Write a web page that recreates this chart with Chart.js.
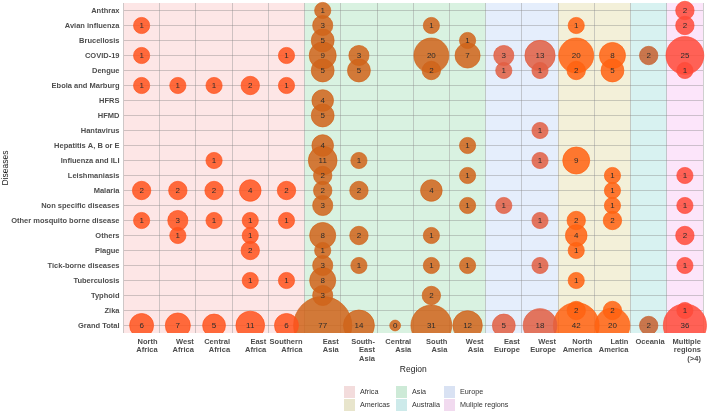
<!DOCTYPE html>
<html>
<head>
<meta charset="utf-8">
<script src="https://cdn.jsdelivr.net/npm/chart.js@4.4.0/dist/chart.umd.min.js"></script>
<style>
  html, body { margin: 0; padding: 0; background: #fff; }
  canvas { display: block; }
</style>
</head>
<body>
<canvas id="bubbleChart" width="708" height="413" style="width:708px;height:413px"></canvas>
<script>
const _ = null;

const diseases = ['Anthrax', 'Avian influenza', 'Brucellosis', 'COVID-19', 'Dengue', 'Ebola and Marburg',
    'HFRS', 'HFMD', 'Hantavirus', 'Hepatitis A, B or E', 'Influenza and ILI', 'Leishmaniasis', 'Malaria',
    'Non specific diseases', 'Other mosquito borne disease', 'Others', 'Plague', 'Tick-borne diseases',
    'Tuberculosis', 'Typhoid', 'Zika', 'Grand Total'];

const regions = ['North Africa', 'West Africa', 'Central Africa', 'East Africa', 'Southern Africa',
    'East Asia', 'South-East Asia', 'Central Asia', 'South Asia', 'West Asia',
    'East Europe', 'West Europe', 'North America', 'Latin America', 'Oceania', 'Multiple regions (>4)'];

const regionLabels = [['North', 'Africa'], ['West', 'Africa'], ['Central', 'Africa'], ['East', 'Africa'],
    ['Southern', 'Africa'], ['East', 'Asia'], ['South-', 'East', 'Asia'], ['Central', 'Asia'], ['South', 'Asia'],
    ['West', 'Asia'], ['East', 'Europe'], ['West', 'Europe'], ['North', 'America'], ['Latin', 'America'],
    ['Oceania'], ['Multiple', 'regions', '(>4)']];

const regionGroup = ['Africa', 'Africa', 'Africa', 'Africa', 'Africa', 'Asia', 'Asia', 'Asia', 'Asia', 'Asia',
    'Europe', 'Europe', 'Americas', 'Americas', 'Australia', 'Muliple regions'];

// number of studies per region, in the order of `diseases` (null = none)
const northAfrica    = [_, 1, _, 1, _, 1, _, _, _, _, _, _, 2, _, 1, _, _, _, _, _, _, 6];
const westAfrica     = [_, _, _, _, _, 1, _, _, _, _, _, _, 2, _, 3, 1, _, _, _, _, _, 7];
const centralAfrica  = [_, _, _, _, _, 1, _, _, _, _, 1, _, 2, _, 1, _, _, _, _, _, _, 5];
const eastAfrica     = [_, _, _, _, _, 2, _, _, _, _, _, _, 4, _, 1, 1, 2, _, 1, _, _, 11];
const southernAfrica = [_, _, _, 1, _, 1, _, _, _, _, _, _, 2, _, 1, _, _, _, 1, _, _, 6];
const eastAsia       = [1, 3, 5, 9, 5, _, 4, 5, _, 4, 11, 2, 2, 3, _, 8, 1, 3, 8, 3, _, 77];
const southEastAsia  = [_, _, _, 3, 5, _, _, _, _, _, 1, _, 2, _, _, 2, _, 1, _, _, _, 14];
const centralAsia    = [_, _, _, _, _, _, _, _, _, _, _, _, _, _, _, _, _, _, _, _, _, 0];
const southAsia      = [_, 1, _, 20, 2, _, _, _, _, _, _, _, 4, _, _, 1, _, 1, _, 2, _, 31];
const westAsia       = [_, _, 1, 7, _, _, _, _, _, 1, _, 1, _, 1, _, _, _, 1, _, _, _, 12];
const eastEurope     = [_, _, _, 3, 1, _, _, _, _, _, _, _, _, 1, _, _, _, _, _, _, _, 5];
const westEurope     = [_, _, _, 13, 1, _, _, _, 1, _, 1, _, _, _, 1, _, _, 1, _, _, _, 18];
const northAmerica   = [_, 1, _, 20, 2, _, _, _, _, _, 9, _, _, _, 2, 4, 1, _, 1, _, 2, 42];
const latinAmerica   = [_, _, _, 8, 5, _, _, _, _, _, _, 1, 1, 1, 2, _, _, _, _, _, 2, 20];
const oceania        = [_, _, _, 2, _, _, _, _, _, _, _, _, _, _, _, _, _, _, _, _, _, 2];
const multipleRegions = [2, 2, _, 25, 1, _, _, _, _, _, _, 1, _, 1, _, 2, _, 1, _, _, 1, 36];

const counts = [northAfrica, westAfrica, centralAfrica, eastAfrica, southernAfrica,
    eastAsia, southEastAsia, centralAsia, southAsia, westAsia,
    eastEurope, westEurope, northAmerica, latinAmerica, oceania, multipleRegions];

const legendOrder = ['Africa', 'Americas', 'Asia', 'Australia', 'Europe', 'Muliple regions'];

// styles
const bandColors = {
    'Africa': '#FDE6E6', 'Asia': '#D9F2E1', 'Europe': '#E5EEFC',
    'Americas': '#F3F0D9', 'Australia': '#D8F2F1', 'Muliple regions': '#FCE5FA'
};
const keyColors = {
    'Africa': '#F3DCDC', 'Asia': '#CDEAD7', 'Europe': '#D9E2F3',
    'Americas': '#E8E5CC', 'Australia': '#CDEAEA', 'Muliple regions': '#F1DAEF'
};
const bubbleColors = {
    'Africa': 'rgba(255,82,28,0.85)', 'Asia': 'rgba(208,100,26,0.85)', 'Europe': 'rgba(226,94,66,0.85)',
    'Americas': 'rgba(255,98,16,0.85)', 'Australia': 'rgba(198,96,48,0.85)', 'Muliple regions': 'rgba(255,74,56,0.85)'
};
const FONT = "'Liberation Sans', Arial, sans-serif";

// bubble area grows with the count
function sizeFor(v) {
    return 5.4 + 2.7 * Math.sqrt(v);
}

const datasets = regions.map((region, i) => {
    const points = [];
    counts[i].forEach((v, j) => {
        if (v === null) return;
        points.push({ x: region, y: diseases[j], r: sizeFor(v), v: v });
    });
    const col = bubbleColors[regionGroup[i]];
    return {
        label: region,
        data: points,
        backgroundColor: col,
        borderColor: col,
        borderWidth: 0.8,
        clip: { left: false, top: false, right: false, bottom: 0 }
    };
});

const bandPlugin = {
    id: 'bands',
    beforeDraw(chart) {
        const { ctx, chartArea, scales } = chart;
        const x = scales.x;
        ctx.save();
        regions.forEach((r, i) => {
            const c = x.getPixelForValue(i);
            const left = i === 0 ? chartArea.left : (c + x.getPixelForValue(i - 1)) / 2;
            const right = i === regions.length - 1 ? chartArea.right : (c + x.getPixelForValue(i + 1)) / 2;
            ctx.fillStyle = bandColors[regionGroup[i]];
            ctx.fillRect(left, chartArea.top, right - left, chartArea.bottom - chartArea.top);
        });
        ctx.restore();
    }
};

const valueLabelPlugin = {
    id: 'valueLabels',
    afterDatasetsDraw(chart) {
        const { ctx } = chart;
        ctx.save();
        ctx.font = '8px ' + FONT;
        ctx.fillStyle = '#2b2b2b';
        ctx.textAlign = 'center';
        ctx.textBaseline = 'middle';
        chart.data.datasets.forEach((ds, i) => {
            const meta = chart.getDatasetMeta(i);
            meta.data.forEach((el, j) => {
                ctx.fillText(String(ds.data[j].v), el.x, el.y + 0.5);
            });
        });
        ctx.restore();
    }
};

const regionLegendPlugin = {
    id: 'regionLegend',
    afterDraw(chart) {
        const { ctx } = chart;
        const colX = [344, 396, 444];
        const rowY = [386, 399];
        ctx.save();
        ctx.font = '7.2px ' + FONT;
        ctx.textBaseline = 'middle';
        ctx.textAlign = 'left';
        legendOrder.forEach((name, i) => {
            const x = colX[Math.floor(i / 2)];
            const y = rowY[i % 2];
            ctx.fillStyle = keyColors[name];
            ctx.fillRect(x, y, 11, 12);
            ctx.fillStyle = '#333333';
            ctx.fillText(name, x + 16, y + 6);
        });
        ctx.restore();
    }
};

const gridColor = 'rgba(130,130,130,0.38)';

new Chart(document.getElementById('bubbleChart').getContext('2d'), {
    type: 'bubble',
    data: { datasets: datasets },
    plugins: [bandPlugin, valueLabelPlugin, regionLegendPlugin],
    options: {
        responsive: false,
        animation: false,
        layout: { autoPadding: false, padding: { left: 0, top: 3, right: 5, bottom: 38 } },
        plugins: {
            legend: { display: false },
            tooltip: { enabled: false }
        },
        scales: {
            x: {
                type: 'category',
                labels: regions,
                offset: true,
                grid: { offset: true, color: gridColor, drawTicks: false },
                border: { display: false },
                ticks: {
                    autoSkip: false,
                    maxRotation: 0,
                    minRotation: 0,
                    align: 'end',
                    labelOffset: 16,
                    padding: 5,
                    color: '#4d4d4d',
                    font: { family: FONT, size: 7.5, weight: 'bold', lineHeight: 1.1 },
                    callback: (value, index) => regionLabels[index]
                },
                title: {
                    display: true,
                    text: 'Region',
                    color: '#222222',
                    padding: 0,
                    font: { family: FONT, size: 8.5 }
                },
                afterFit: (scale) => {
                    scale.height = 42;
                    scale.paddingLeft = 0;
                    scale.paddingRight = 0;
                }
            },
            y: {
                type: 'category',
                labels: diseases,
                offset: true,
                grid: { offset: false, color: gridColor, drawTicks: false },
                border: { display: false },
                ticks: {
                    autoSkip: false,
                    padding: 4,
                    color: '#4d4d4d',
                    font: { family: FONT, size: 7.5, weight: 'bold' }
                },
                title: {
                    display: true,
                    text: 'Diseases',
                    color: '#222222',
                    padding: { top: 1, bottom: 0 },
                    font: { family: FONT, size: 8.5 }
                },
                afterFit: (scale) => {
                    scale.width = 123.5;
                    scale.paddingTop = 0;
                    scale.paddingBottom = 0;
                }
            }
        }
    }
});
</script>
</body>
</html>
